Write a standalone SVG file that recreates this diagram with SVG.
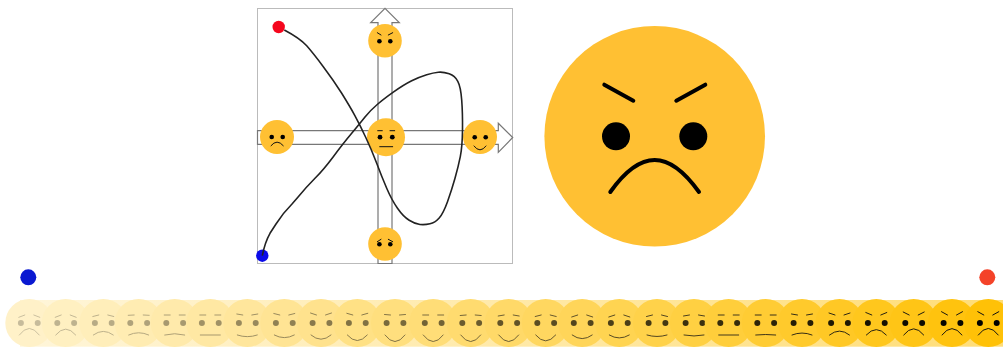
<svg xmlns="http://www.w3.org/2000/svg" width="1003" height="350" viewBox="0 0 1003 350">
<style>
.arrow{fill:#fff;stroke:#777;stroke-width:1.2}
.open{fill:none;stroke:#777;stroke-width:1.2}
.skin{fill:#ffc033}
.ink{fill:none;stroke:#111;stroke-width:1;stroke-linecap:round}
.inkb{fill:none;stroke:#000;stroke-width:4;stroke-linecap:round}
.eye{fill:#000}
.curve{fill:none;stroke:#222;stroke-width:1.6;stroke-linejoin:round}
</style>
<defs>
<linearGradient id="band"><stop offset="0" stop-color="#ffc107" stop-opacity=".15"/><stop offset="1" stop-color="#ffc107" stop-opacity=".55"/></linearGradient>
<g id="e"><circle cx="-8.4" r="3" class="eye"/><circle cx="8.4" r="3" class="eye"/></g>
</defs>
<rect x="257.5" y="8.5" width="255" height="255" fill="#fff" stroke="#bbb"/>
<g id="axes">
<path class="arrow" d="M378 263.5V22.7H370.7L385 8.3L399.3 22.7H392V263.5Z"/>
<path class="arrow" d="M257.5 130.7H498.3V123.3L512.7 137.5L498.3 152.3V144.3H257.5Z"/>
<path class="open" d="M378 130.7V144.3M392 130.7V144.3"/>
</g>
<g id="face-top"><circle class="skin" cx="385" cy="40.7" r="16.8"/><circle class="eye" cx="379.4" cy="41.3" r="2.3"/><circle class="eye" cx="390.3" cy="41.3" r="2.3"/><path class="ink" d="M377.3 32.7L381 35M392.7 32.7L388.3 35"/></g>
<g id="face-left"><circle class="skin" cx="277" cy="137" r="17"/><circle class="eye" cx="271.7" cy="137" r="2.3"/><circle class="eye" cx="282.7" cy="137" r="2.3"/><path class="ink" d="M271 145.7Q277 138.3 283.3 145.7"/></g>
<g id="face-center"><circle class="skin" cx="386" cy="137.2" r="19"/><circle class="eye" cx="380" cy="137.2" r="2.4"/><circle class="eye" cx="392.3" cy="137.2" r="2.4"/><path class="ink" d="M377.7 130.7H382.3M390 130.7H394.7M379.7 146.7H392.7"/></g>
<g id="face-right"><circle class="skin" cx="480" cy="137" r="17"/><circle class="eye" cx="474.7" cy="137.3" r="2.3"/><circle class="eye" cx="485.7" cy="137.3" r="2.3"/><path class="ink" d="M474 146Q480 154 486 146"/></g>
<g id="face-bottom"><circle class="skin" cx="385" cy="244" r="16.8"/><circle class="eye" cx="379.4" cy="244.3" r="2.3"/><circle class="eye" cx="390.3" cy="244.3" r="2.3"/><path class="ink" d="M377.3 241.7L381 239.3M392.7 241.7L388.3 239.3"/></g>
<g id="endpoints">
<circle cx="278.7" cy="27" r="6.2" fill="#f5061d"/>
<circle cx="262.3" cy="255.7" r="6.2" fill="#0a0ae8"/>
</g>
<g id="connectors">
<path class="curve" d="M284.3 30Q300 38.3 306.7 45.8Q313.3 53.3 323.3 66.7Q333.3 80 341.7 93.3Q350 106.7 355 115.8Q360 125 365.8 137.5Q371.7 150 376.7 163.3Q381.7 176.7 386.7 188.3Q391.7 200 397.5 208.3Q403.3 216.7 409.2 220.3Q415 224 420 224.5Q425 225 430 223.8Q435 222.7 439.2 218Q443.3 213.3 447.5 201.7Q451.7 190 455 178.3Q458.3 166.7 460.3 156.7Q462.3 146.7 462.5 130Q462.7 113.3 461.7 100Q460.7 86.7 457.8 81.3Q455 76 449.2 73.8Q443.3 71.7 438.3 72.2Q433.3 72.7 426.7 74.7Q420 76.7 411.7 80.8Q403.3 85 393.3 92.2Q383.3 99.3 376.7 105Q370 110.7 365 117Q360 123.3 351.7 133.3Q343.3 143.3 333.3 156.7Q323.3 170 315 178.3Q306.7 186.7 298.3 196.7L292 204Q283 213 276 224L270 233.3Q265 242 262.3 255.7"/>
</g>
<g id="big-face">
<circle class="skin" cx="654.7" cy="136.3" r="110.3"/>
<circle class="eye" cx="616" cy="136.3" r="14"/>
<circle class="eye" cx="693.3" cy="136.3" r="14"/>
<path class="inkb" d="M604.3 84.7L633.3 100.7M705.3 84.7L676.3 100.7M610.3 192Q633 160 654.7 160Q676 160 699 192"/>
</g>
<g id="strip-ends">
<circle cx="28.3" cy="277.3" r="8" fill="#0a19d1"/>
<circle cx="987.3" cy="277.3" r="8" fill="#f44329"/>
</g>
<g id="strip">
<rect x="20" y="300" width="983" height="46.7" fill="url(#band)"/>
<g id="f1" transform="translate(29.3 323)"><circle r="24" fill="#fff1c8"/><g opacity=".22"><use href="#e"/><path class="ink" d="M-10.5-5.7L-4.5-8M10.5-5.7L4.5-8M-10 12Q0-1.4 10 12"/></g></g>
<g id="f2" transform="translate(65.7 323)"><circle r="24" fill="#fff0c1"/><g opacity=".25"><use href="#e"/><path class="ink" d="M-10.5-5.7L-4.5-8M10.5-5.7L4.5-8M-10 12Q0 0 10 12"/></g></g>
<g id="f3" transform="translate(103.3 323)"><circle r="24" fill="#ffeeba"/><g opacity=".28"><use href="#e"/><path class="ink" d="M-10.5-6.5L-4.5-8M10.5-6.5L4.5-8M-10 12Q0 4.6 10 12"/></g></g>
<g id="f4" transform="translate(138.7 323)"><circle r="24" fill="#ffecb2"/><g opacity=".31"><use href="#e"/><path class="ink" d="M-10.5-7.7L-4.5-8M10.5-7.7L4.5-8M-10 12Q0 7.4 10 12"/></g></g>
<g id="f5" transform="translate(174.7 323)"><circle r="24" fill="#ffeaab"/><g opacity=".34"><use href="#e"/><path class="ink" d="M-10.5-8L-4.5-8M10.5-8L4.5-8M-10 12Q0 9.4 10 12"/></g></g>
<g id="f6" transform="translate(210.3 323)"><circle r="24" fill="#ffe8a3"/><g opacity=".37"><use href="#e"/><path class="ink" d="M-10.5-8L-4.5-8M10.5-8L4.5-8M-10 12Q0 12 10 12"/></g></g>
<g id="f7" transform="translate(247.3 323)"><circle r="24" fill="#ffe69c"/><g opacity=".4"><use href="#e"/><path class="ink" d="M-10.5-9L-4.5-8M10.5-9L4.5-8M-10 12Q0 15.4 10 12"/></g></g>
<g id="f8" transform="translate(284.3 323)"><circle r="24" fill="#ffe494"/><g opacity=".43"><use href="#e"/><path class="ink" d="M-10.5-9.5L-4.5-8M10.5-9.5L4.5-8M-10 12Q0 17.4 10 12"/></g></g>
<g id="f9" transform="translate(321 323)"><circle r="24" fill="#ffe28d"/><g opacity=".46"><use href="#e"/><path class="ink" d="M-10.5-10L-4.5-8M10.5-10L4.5-8M-10 12Q0 20.6 10 12"/></g></g>
<g id="f10" transform="translate(357.3 323)"><circle r="24" fill="#ffe185"/><g opacity=".49"><use href="#e"/><path class="ink" d="M-10.5-9.7L-4.5-8M10.5-9.7L4.5-8M-10 12Q0 23.4 10 12"/></g></g>
<g id="f11" transform="translate(395 323)"><circle r="24" fill="#ffdf7e"/><g opacity=".52"><use href="#e"/><path class="ink" d="M-10.5-8.5L-4.5-8M10.5-8.5L4.5-8M-10 12Q0 25.4 10 12"/></g></g>
<g id="f12" transform="translate(433.2 323)"><circle r="24" fill="#ffdd77"/><g opacity=".55"><use href="#e"/><path class="ink" d="M-10.5-8L-4.5-8M10.5-8L4.5-8M-10 12Q0 25.4 10 12"/></g></g>
<g id="f13" transform="translate(470.7 323)"><circle r="24" fill="#ffdb6f"/><g opacity=".58"><use href="#e"/><path class="ink" d="M-10.5-7.5L-4.5-8M10.5-7.5L4.5-8M-10 12Q0 25.4 10 12"/></g></g>
<g id="f14" transform="translate(508.7 323)"><circle r="24" fill="#ffd968"/><g opacity=".61"><use href="#e"/><path class="ink" d="M-10.5-7L-4.5-8M10.5-7L4.5-8M-10 12Q0 25.4 10 12"/></g></g>
<g id="f15" transform="translate(545.7 323)"><circle r="24" fill="#ffd760"/><g opacity=".64"><use href="#e"/><path class="ink" d="M-10.5-6.5L-4.5-8M10.5-6.5L4.5-8M-10 12Q0 24 10 12"/></g></g>
<g id="f16" transform="translate(582.2 323)"><circle r="24" fill="#ffd559"/><g opacity=".67"><use href="#e"/><path class="ink" d="M-10.5-6L-4.5-8M10.5-6L4.5-8M-10 12Q0 19.4 10 12"/></g></g>
<g id="f17" transform="translate(619.3 323)"><circle r="24" fill="#ffd451"/><g opacity=".7"><use href="#e"/><path class="ink" d="M-10.5-6L-4.5-8M10.5-6L4.5-8M-10 12Q0 18 10 12"/></g></g>
<g id="f18" transform="translate(657 323)"><circle r="24" fill="#ffd24a"/><g opacity=".73"><use href="#e"/><path class="ink" d="M-10.5-6.5L-4.5-8M10.5-6.5L4.5-8M-10 12Q0 15 10 12"/></g></g>
<g id="f19" transform="translate(694 323)"><circle r="24" fill="#ffd042"/><g opacity=".76"><use href="#e"/><path class="ink" d="M-10.5-7L-4.5-8M10.5-7L4.5-8M-10 12Q0 14 10 12"/></g></g>
<g id="f20" transform="translate(728.7 323)"><circle r="24" fill="#ffce3b"/><g opacity=".79"><use href="#e"/><path class="ink" d="M-10.5-8L-4.5-8M10.5-8L4.5-8M-10 12Q0 12 10 12"/></g></g>
<g id="f21" transform="translate(765.7 323)"><circle r="24" fill="#ffcc34"/><g opacity=".82"><use href="#e"/><path class="ink" d="M-10.5-8L-4.5-8M10.5-8L4.5-8M-10 12Q0 11 10 12"/></g></g>
<g id="f22" transform="translate(802 323)"><circle r="24" fill="#ffca2c"/><g opacity=".85"><use href="#e"/><path class="ink" d="M-10.5-9L-4.5-8M10.5-9L4.5-8M-10 12Q0 8 10 12"/></g></g>
<g id="f23" transform="translate(839.5 323)"><circle r="24" fill="#ffc825"/><g opacity=".88"><use href="#e"/><path class="ink" d="M-10.5-10L-4.5-8M10.5-10L4.5-8M-10 12Q0 4 10 12"/></g></g>
<g id="f24" transform="translate(876.3 323)"><circle r="24" fill="#ffc71d"/><g opacity=".91"><use href="#e"/><path class="ink" d="M-10.5-10.5L-4.5-8M10.5-10.5L4.5-8M-10 12Q0 1 10 12"/></g></g>
<g id="f25" transform="translate(913.7 323)"><circle r="24" fill="#ffc516"/><g opacity=".94"><use href="#e"/><path class="ink" d="M-10.5-11L-4.5-8M10.5-11L4.5-8M-10 12Q0-.6 10 12"/></g></g>
<g id="f26" transform="translate(952 323)"><circle r="24" fill="#ffc30e"/><g opacity=".97"><use href="#e"/><path class="ink" d="M-10.5-11.3L-4.5-8M10.5-11.3L4.5-8M-10 12Q0-1 10 12"/></g></g>
<g id="f27" transform="translate(988.3 323)"><circle r="24" fill="#ffc107"/><use href="#e"/><path class="ink" d="M-10.5-11.3L-4.5-8M10.5-11.3L4.5-8M-10 12Q0-1.4 10 12"/></g>
</g>
</svg>
